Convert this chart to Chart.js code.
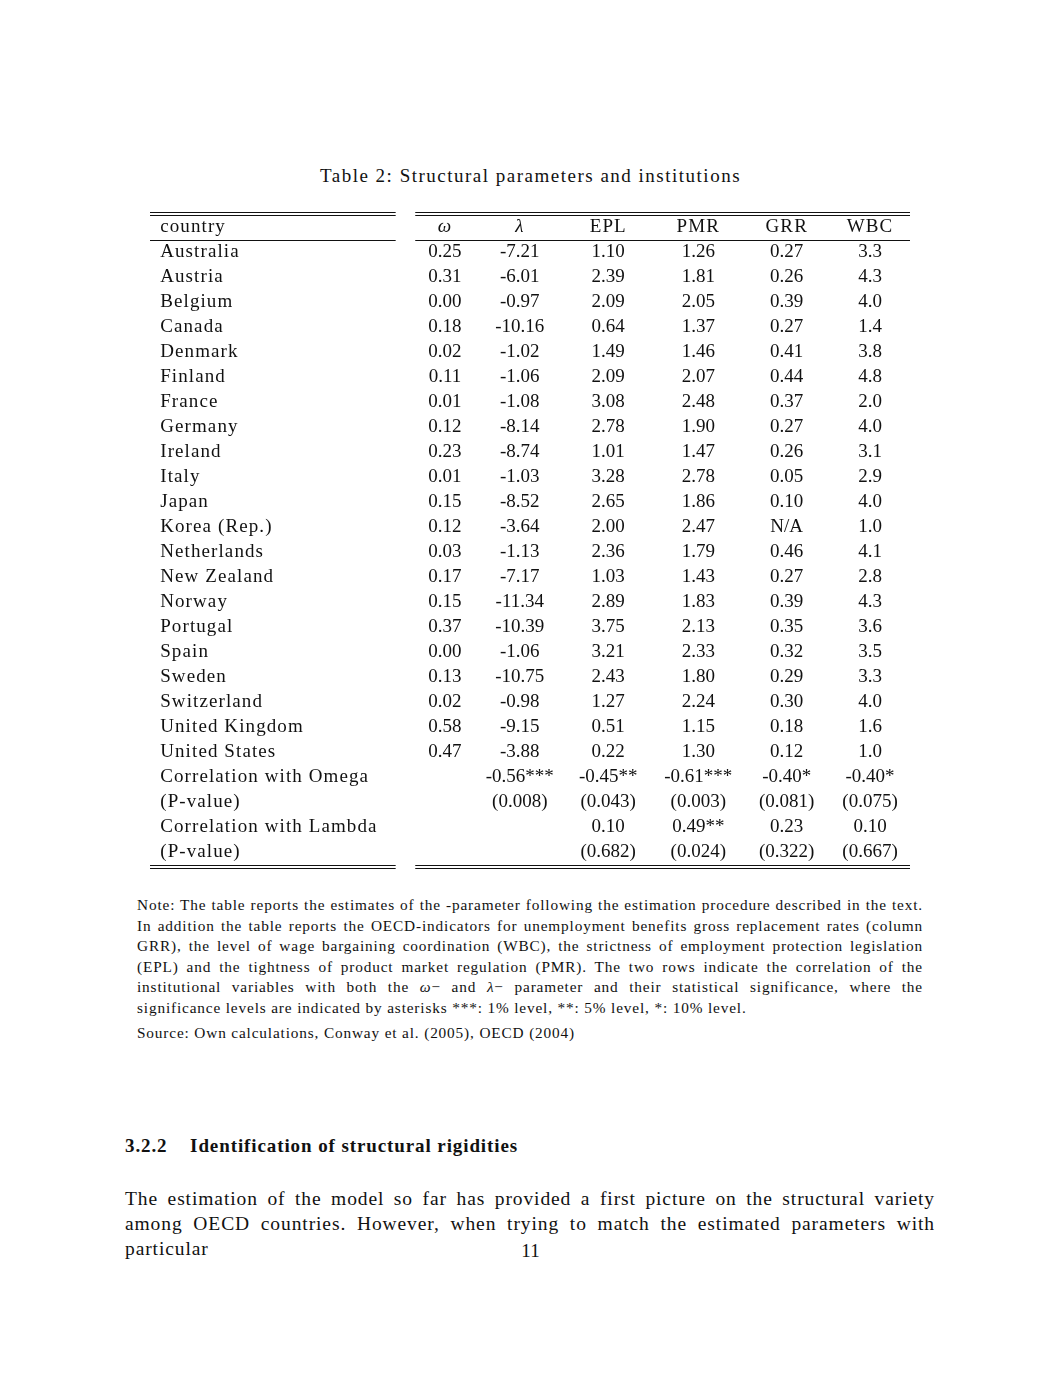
<!DOCTYPE html>
<html><head><meta charset="utf-8">
<script src="https://cdn.jsdelivr.net/npm/chart.js@4"></script>
<style>
body{margin:0;background:#fff;font-family:"Liberation Serif",serif;color:#111}
#page{position:relative;width:1061px;height:1373px}
.abs{position:absolute}
#cap{top:165px;left:0;width:1061px;text-align:center;font-size:19px;letter-spacing:1.5px}
#wrap{left:150px;top:200px;width:760px;height:670px}
#notes{left:137px;top:895px;width:786px;font-size:15.3px;line-height:20.5px;letter-spacing:0.85px}
#note{text-align:justify}
#src{margin-top:5px}
#sec{left:125px;top:1135px;font-size:19px;font-weight:bold;letter-spacing:0.9px}
#par{left:125px;top:1186px;width:810px;font-size:19.5px;line-height:25px;text-align:justify;text-align-last:justify;letter-spacing:0.9px}
#pg{top:1240px;left:0;width:1061px;text-align:center;font-size:19px}
</style></head><body><div id="page">
<div id="cap" class="abs">Table 2: Structural parameters and institutions</div>
<div id="wrap" class="abs"><canvas id="tbl"></canvas></div>
<div id="notes" class="abs">
<div id="note">Note: The table reports the estimates of the -parameter following the estimation procedure described in the text. In addition the table reports the OECD-indicators for unemployment benefits gross replacement rates (column GRR), the level of wage bargaining coordination (WBC), the strictness of employment protection legislation (EPL) and the tightness of product market regulation (PMR). The two rows indicate the correlation of the institutional variables with both the <i>ω</i>− and <i>λ</i>− parameter and their statistical significance, where the significance levels are indicated by asterisks ***: 1% level, **: 5% level, *: 10% level.</div>
<div id="src">Source: Own calculations, Conway et al. (2005), OECD (2004)</div>
</div>
<div id="sec" class="abs">3.2.2&nbsp;&nbsp;&nbsp;&nbsp;Identification of structural rigidities</div>
<div id="par" class="abs">The estimation of the model so far has provided a first picture on the structural variety among OECD countries. However, when trying to match the estimated parameters with particular</div>
<div id="pg" class="abs">11</div>
</div>
<script>
const headers = ["ω", "λ", "EPL", "PMR", "GRR", "WBC"];
const countries = ["Australia","Austria","Belgium","Canada","Denmark","Finland","France","Germany","Ireland","Italy","Japan","Korea (Rep.)","Netherlands","New Zealand","Norway","Portugal","Spain","Sweden","Switzerland","United Kingdom","United States"];
const omega = ["0.25","0.31","0.00","0.18","0.02","0.11","0.01","0.12","0.23","0.01","0.15","0.12","0.03","0.17","0.15","0.37","0.00","0.13","0.02","0.58","0.47"];
const lambda = ["-7.21","-6.01","-0.97","-10.16","-1.02","-1.06","-1.08","-8.14","-8.74","-1.03","-8.52","-3.64","-1.13","-7.17","-11.34","-10.39","-1.06","-10.75","-0.98","-9.15","-3.88"];
const epl = ["1.10","2.39","2.09","0.64","1.49","2.09","3.08","2.78","1.01","3.28","2.65","2.00","2.36","1.03","2.89","3.75","3.21","2.43","1.27","0.51","0.22"];
const pmr = ["1.26","1.81","2.05","1.37","1.46","2.07","2.48","1.90","1.47","2.78","1.86","2.47","1.79","1.43","1.83","2.13","2.33","1.80","2.24","1.15","1.30"];
const grr = ["0.27","0.26","0.39","0.27","0.41","0.44","0.37","0.27","0.26","0.05","0.10","N/A","0.46","0.27","0.39","0.35","0.32","0.29","0.30","0.18","0.12"];
const wbc = ["3.3","4.3","4.0","1.4","3.8","4.8","2.0","4.0","3.1","2.9","4.0","1.0","4.1","2.8","4.3","3.6","3.5","3.3","4.0","1.6","1.0"];
const footLabels = ["Correlation with Omega","(P-value)","Correlation with Lambda","(P-value)"];
const footRows = [
  ["", "-0.56***", "-0.45**", "-0.61***", "-0.40*", "-0.40*"],
  ["", "(0.008)", "(0.043)", "(0.003)", "(0.081)", "(0.075)"],
  ["", "", "0.10", "0.49**", "0.23", "0.10"],
  ["", "", "(0.682)", "(0.024)", "(0.322)", "(0.667)"]
];

const columns = [omega, lambda, epl, pmr, grr, wbc];
// column centres in x-scale units (widths differ a little, as in the typeset table)
const colPos = [0, 0.88, 1.92, 2.98, 4.02, 5];
const FONT = '19px "Liberation Serif", serif';

const tablePlugin = {
  id: "tableText",
  afterDraw(chart) {
    const { ctx, scales: { x, y } } = chart;
    const cx = x.getPixelForValue(-3.35);
    const px = j => x.getPixelForValue(colPos[j]);
    ctx.save();
    ctx.fillStyle = "#111";
    ctx.textBaseline = "middle";
    ctx.font = FONT;
    ctx.letterSpacing = "1.1px";
    ctx.textAlign = "left";
    ctx.fillText("country", cx, y.getPixelForValue(0));
    headers.forEach((h, j) => {
      ctx.textAlign = "center";
      ctx.font = j < 2 ? 'italic ' + FONT : FONT;
      ctx.fillText(h, px(j), y.getPixelForValue(0));
    });
    ctx.font = FONT;
    countries.forEach((c, i) => {
      const py = y.getPixelForValue(i + 1);
      ctx.letterSpacing = "1.1px";
      ctx.textAlign = "left";
      ctx.fillText(c, cx, py);
      ctx.letterSpacing = "0px";
      ctx.textAlign = "center";
      columns.forEach((col, j) => ctx.fillText(col[i], px(j), py));
    });
    footLabels.forEach((lab, k) => {
      const py = y.getPixelForValue(countries.length + 1 + k);
      ctx.letterSpacing = "1.1px";
      ctx.textAlign = "left";
      ctx.fillText(lab, cx, py);
      ctx.letterSpacing = "0px";
      ctx.textAlign = "center";
      footRows[k].forEach((v, j) => ctx.fillText(v, px(j), py));
    });
    // rules
    ctx.strokeStyle = "#111";
    ctx.lineWidth = 1;
    const line = (a, b, py) => {
      ctx.beginPath();
      ctx.moveTo(x.getPixelForValue(a), py + 0.5);
      ctx.lineTo(x.getPixelForValue(b), py + 0.5);
      ctx.stroke();
    };
    const segs = [[-3.47, -0.58], [-0.35, 5.47]];
    const top = Math.round(y.getPixelForValue(-0.6));
    const mid = Math.round(y.getPixelForValue(0.52));
    const bot = Math.round(y.getPixelForValue(countries.length + footLabels.length + 0.5));
    segs.forEach(([a, b]) => {
      line(a, b, top); line(a, b, top + 3);
      line(a, b, mid);
      line(a, b, bot); line(a, b, bot + 3);
    });
    ctx.restore();
  }
};

new Chart(document.getElementById("tbl"), {
  type: "scatter",
  data: { datasets: [{ data: [], pointRadius: 0 }] },
  options: {
    responsive: true,
    maintainAspectRatio: false,
    animation: false,
    layout: { padding: 0 },
    plugins: { legend: { display: false }, tooltip: { enabled: false } },
    scales: {
      x: { type: "linear", min: -3.47, max: 5.47, display: false },
      y: { type: "linear", min: -1.08, max: 25.72, reverse: true, display: false }
    }
  },
  plugins: [tablePlugin]
});
</script>
</body></html>
